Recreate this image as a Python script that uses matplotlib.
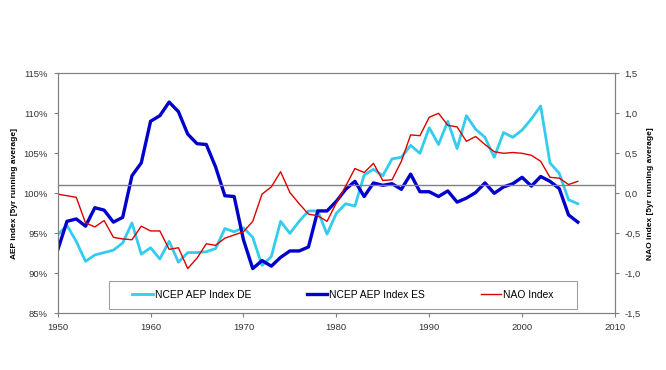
import numpy as np
import matplotlib
matplotlib.use('Agg')
import matplotlib.pyplot as plt
from matplotlib.patches import Rectangle
from matplotlib.ticker import FuncFormatter, MultipleLocator

plt.rcParams['font.family'] = ['Liberation Sans', 'DejaVu Sans']

years = list(range(1950, 2007))

aep_de = [94.8, 96.0, 94.0, 91.5, 92.3, 92.6, 92.9, 93.8, 96.3, 92.4,
          93.2, 91.8, 94.0, 91.4, 92.6, 92.6, 92.7, 93.1, 95.6, 95.2,
          95.7, 94.5, 91.0, 92.1, 96.5, 95.0, 96.5, 97.8, 97.8, 94.9,
          97.5, 98.7, 98.4, 102.3, 103.0, 102.2, 104.3, 104.5, 106.0, 105.0,
          108.2, 106.1, 109.0, 105.6, 109.7, 108.0, 107.0, 104.5, 107.6, 107.0,
          107.9, 109.3, 110.9, 103.8, 102.5, 99.2, 98.7]

aep_es = [92.9, 96.5, 96.8, 95.9, 98.2, 97.9, 96.4, 97.0, 102.2, 103.8,
          109.0, 109.7, 111.4, 110.2, 107.4, 106.2, 106.1, 103.3, 99.7, 99.6,
          94.2, 90.6, 91.6, 90.9, 92.0, 92.8, 92.8, 93.3, 97.8, 97.8,
          99.0, 100.5, 101.5, 99.6, 101.3, 101.0, 101.2, 100.5, 102.4, 100.2,
          100.2, 99.6, 100.3, 98.9, 99.4, 100.1, 101.3, 100.0, 100.8, 101.2,
          102.0, 100.9, 102.1, 101.5, 100.6, 97.3, 96.4]

nao = [-0.01, -0.03, -0.05, -0.37, -0.42, -0.34, -0.55, -0.57, -0.58, -0.41,
       -0.47, -0.47, -0.70, -0.68, -0.94, -0.81, -0.63, -0.65, -0.56, -0.52,
       -0.48, -0.35, -0.01, 0.08, 0.27, 0.01, -0.13, -0.26, -0.28, -0.35,
       -0.12, 0.09, 0.31, 0.26, 0.375, 0.16, 0.17, 0.40, 0.73, 0.72,
       0.95, 1.00, 0.85, 0.83, 0.65, 0.71, 0.61, 0.52, 0.50, 0.51,
       0.50, 0.475, 0.40, 0.20, 0.19, 0.11, 0.15]

ref_level = 101

fig = plt.figure(figsize=(6.66, 3.70), dpi=100)
ax = fig.add_axes([0.0866, 0.153, 0.8368, 0.649])
ax2 = ax.twinx()

l1, = ax.plot(years, aep_de, color='#33CCEE', lw=2.0, label='NCEP AEP Index DE')
l2, = ax.plot(years, aep_es, color='#0000CC', lw=2.4, label='NCEP AEP Index ES')
ax.axhline(ref_level, color='#808080', lw=1.0)
l3, = ax2.plot(years, nao, color='#DD0000', lw=1.0, label='NAO Index')

ax.set_xlim(1950, 2010)
ax.set_ylim(85, 115)
ax2.set_ylim(-1.5, 1.5)
ax.xaxis.set_major_locator(MultipleLocator(10))
ax.yaxis.set_major_locator(MultipleLocator(5))
ax2.yaxis.set_major_locator(MultipleLocator(0.5))
ax.yaxis.set_major_formatter(FuncFormatter(lambda v, p: f'{v:.0f}%'))
ax2.yaxis.set_major_formatter(FuncFormatter(lambda v, p: f'{v:.1f}'.replace('.', ',')))

for a in (ax, ax2):
    for s in a.spines.values():
        s.set_color('#808080')
        s.set_linewidth(0.8)
    a.tick_params(labelsize=6.8, colors='#808080', labelcolor='#333333',
                  length=3, width=0.8, direction='out', pad=4)

ax.set_ylabel('AEP index [5yr running average]', fontsize=6, fontweight='bold')
ax2.set_ylabel('NAO index [5yr running average]', fontsize=6, fontweight='bold')

# legend box drawn separately so its size matches the original
box = Rectangle((0.092, 0.018), 0.84, 0.117, transform=ax2.transAxes,
                facecolor='white', edgecolor='#A0A0A0', lw=0.8, zorder=5)
ax2.add_patch(box)
leg = ax2.legend(handles=[l1, l2, l3], loc='center', ncol=3,
                 bbox_to_anchor=(0.512, 0.0765), frameon=False, fontsize=7.4,
                 handlelength=2.0, handletextpad=0.2, columnspacing=5.4,
                 borderaxespad=0)
leg.set_zorder(6)

fig.savefig('out.png', dpi=100)
